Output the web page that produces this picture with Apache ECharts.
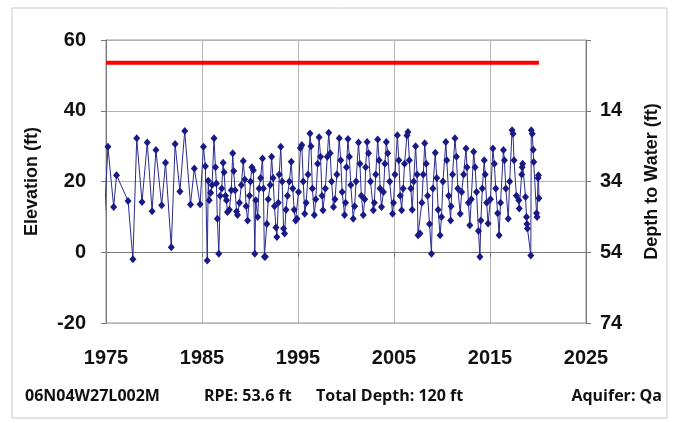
<!DOCTYPE html>
<html><head><meta charset="utf-8">
<script src="https://cdn.jsdelivr.net/npm/echarts@6/dist/echarts.min.js"></script>
<style>html,body{margin:0;padding:0;background:#fff}#c{width:676px;height:423px}</style>
</head><body><div id="c"></div>
<script>
// ---- data ----
const obsDate = [
1974.8,1975.2,1975.8,1976.1,1977.3,1977.8,1978.2,1978.75,1979.3,1979.8,1980.2,1980.8,1981.2,1981.8,1982.2,1982.7,1983.2,1983.8,1984.2,1984.8,
1985.15,1985.35,1985.55,1985.65,1985.75,1985.9,
1986.05,1986.25,1986.4,1986.5,1986.6,1986.75,1986.9,
1987.05,1987.2,1987.3,1987.45,1987.55,1987.65,1987.85,
1988.05,1988.2,1988.3,1988.45,1988.6,1988.7,1988.9,
1989.1,1989.3,1989.45,1989.6,1989.75,1989.95,
1990.05,1990.2,1990.35,1990.5,1990.6,1990.8,1990.95,
1991.1,1991.3,1991.4,1991.5,1991.6,1991.75,1991.9,
1992.1,1992.25,1992.4,1992.55,1992.7,1992.8,1992.95,
1993.05,1993.2,1993.35,1993.5,1993.6,1993.75,1993.9,
1994.1,1994.3,1994.45,1994.6,1994.75,1994.9,
1995.05,1995.25,1995.4,1995.55,1995.7,1995.85,
1996.05,1996.25,1996.35,1996.5,1996.7,1996.85,
1997.05,1997.2,1997.35,1997.5,1997.6,1997.85,
1998.05,1998.2,1998.35,1998.5,1998.7,1998.85,
1999.05,1999.3,1999.45,1999.6,1999.85,1999.95,
2000.05,2000.2,2000.35,2000.5,2000.75,2000.9,
2001.05,2001.3,2001.45,2001.6,2001.8,2001.95,
2002.05,2002.2,2002.35,2002.55,2002.85,2002.95,
2003.1,2003.3,2003.45,2003.55,2003.7,2003.9,
2004.05,2004.2,2004.35,2004.55,2004.85,2004.95,
2005.1,2005.35,2005.5,2005.65,2005.8,2005.95,
2006.1,2006.35,2006.45,2006.6,2006.75,2006.9,
2007.05,2007.25,2007.4,2007.5,2007.7,2007.9,
2008.05,2008.2,2008.35,2008.5,2008.7,2008.9,
2009.05,2009.3,2009.45,2009.6,2009.8,2009.95,
2010.1,2010.4,2010.5,2010.7,2010.9,2010.95,
2011.1,2011.35,2011.5,2011.65,2011.9,
2012.05,2012.25,2012.5,2012.6,2012.75,2012.9,
2013.05,2013.3,2013.45,2013.6,2013.8,2013.95,
2014.05,2014.2,2014.4,2014.5,2014.65,2014.8,
2015.05,2015.3,2015.45,2015.6,2015.8,2015.95,
2016.1,2016.4,2016.5,2016.65,2016.9,
2017.05,2017.3,2017.4,2017.5,2017.75,
2018.0,2018.05,2018.3,2018.35,2018.4,2018.7,2018.8,2018.85,2018.9,
2019.25,2019.3,2019.4,2019.5,2019.55,2019.85,2019.9,
2020.0,2020.05,2020.1
];
const elevation = [
8,29.8,12.8,21.8,14.5,-2,32.2,14.2,31,11.6,28.9,13.3,25.3,1.4,30.6,17.2,34.3,13.5,23.7,13.6,
29.8,24.3,-2.3,20.2,14.7,16.8,
19,32.2,24,19.4,9.5,-0.4,16,
18,25.3,22.6,16,14.7,11.4,12,
17.5,28,23,17.5,11.5,10.5,14,
19,25.8,20.6,13,9,16,
20,24,23.2,-0.4,14.7,10,18,
21,26.5,18,-1.3,-1.3,8,15,
19,27,21,13,7,4.3,14,
22,29.8,20,6.7,5.3,12,16,
20,25.6,18,12,9,9.5,
17,29.5,30.3,20,10.9,14,
22,33.6,30,18,10.5,15,
25,32.5,27,16,11.9,18,
27,33.8,28,20,12.8,15,
22,32.2,26,17,10.5,14,
24,32,27,19,9.5,13,
20,31,25,16,10.5,15,
24,31.2,28,20,11.9,14,
22,31.9,26,18,12.8,17,
25,31.2,28,20,10.9,14,
22,33.1,26,16,11.9,18,
25,33,34,26,18,12,
20,30,22,4.8,5.3,14,
22,30.8,25,16,8,-0.4,
18,28.1,21,12,4.8,10,
20,31.2,26,16,9,13,
22,32.2,27,18,10.9,
17,22,29.3,24,14,7.6,
15,28.4,24,17,6,-1.3,
9,18,26,22,14,8.1,
15,29.3,25,18,11,4.8,
14,28.9,26,18,9.5,
20,34.5,33.5,26,16,
14.7,12.4,22,24,25,15.6,10,8,6.7,
-0.9,34.5,33.5,29,25.5,11,10,
21,21.8,15.3
];
const rpe = 53.6;
const rpeSpan = [1975, 2020.1];
const yearTicks = [1975, 1985, 1995, 2005, 2015, 2025];
const elevTicks = [-20, 0, 20, 40, 60];
const depthTicks = [74, 54, 34, 14, ''];
const footer = ['06N04W27L002M', 'RPE: 53.6 ft', 'Total Depth: 120 ft', 'Aquifer: Qa'];

// ---- chart ----
const points = obsDate.map((d, i) => [d, elevation[i]]);
const chart = echarts.init(document.getElementById('c'), null, {renderer: 'canvas'});
const axisFont = {fontFamily: 'Liberation Sans, Arial', fontWeight: 'bold', fontSize: 20, color: '#111'};
const nameFont = {fontFamily: 'Liberation Sans, Arial', fontWeight: 'bold', fontSize: 18, color: '#111'};
const footFont = 'bold 16px "Open Sans"';
chart.setOption({
  animation: false,
  grid: {left: 106, right: 90, top: 40, bottom: 100, show: true, borderColor: '#999', borderWidth: 1},
  xAxis: {
    type: 'value', min: yearTicks[0], max: yearTicks[yearTicks.length - 1], interval: 10,
    axisLine: {show: true, lineStyle: {color: '#777'}},
    axisTick: {show: true, inside: false, length: 5, lineStyle: {color: '#777'}},
    axisLabel: Object.assign({margin: 25, formatter: v => String(v)}, axisFont),
    splitLine: {show: true, lineStyle: {color: '#b4b4b4', width: 1}}
  },
  yAxis: [{
    type: 'value', min: elevTicks[0], max: elevTicks[elevTicks.length - 1], interval: 20,
    name: 'Elevation (ft)', nameLocation: 'middle', nameGap: 65, nameRotate: 90,
    nameTextStyle: nameFont,
    axisLine: {show: true, lineStyle: {color: '#777'}},
    axisTick: {show: true, length: 5, lineStyle: {color: '#777'}},
    axisLabel: Object.assign({margin: 20}, axisFont),
    splitLine: {show: true, lineStyle: {color: '#b4b4b4', width: 1}}
  }, {
    type: 'value', min: elevTicks[0], max: elevTicks[elevTicks.length - 1], interval: 20, position: 'right',
    name: 'Depth to Water (ft)', nameLocation: 'middle', nameGap: 57, nameRotate: 90,
    nameTextStyle: nameFont,
    axisLine: {show: true, lineStyle: {color: '#777'}},
    axisTick: {show: true, length: 5, lineStyle: {color: '#777'}},
    axisLabel: Object.assign({margin: 14, formatter: (v, i) => String(depthTicks[i])}, axisFont),
    splitLine: {show: false}
  }],
  series: [{
    type: 'line', data: [[rpeSpan[0], rpe], [rpeSpan[1], rpe]], showSymbol: false, symbol: 'none',
    lineStyle: {color: '#ff0000', width: 4}, z: 3
  }, {
    type: 'line', data: points, clip: true,
    symbol: 'diamond', symbolSize: [7, 8], showAllSymbol: true,
    itemStyle: {color: '#1a1a86'},
    lineStyle: {color: '#2a2a90', width: 1}, z: 4
  }],
  graphic: [
    {type: 'rect', shape: {x: 12, y: 8, width: 655, height: 410}, style: {fill: 'none', stroke: '#c8c8c8', lineWidth: 1}, silent: true},
    {type: 'text', left: 25, top: 388, style: {text: footer[0], font: footFont, fill: '#111'}},
    {type: 'text', left: 204, top: 388, style: {text: footer[1], font: footFont, fill: '#111'}},
    {type: 'text', left: 316, top: 388, style: {text: footer[2], font: footFont, fill: '#111'}},
    {type: 'text', right: 14, top: 388, style: {text: footer[3], font: footFont, fill: '#111'}}
  ]
});
</script></body></html>
